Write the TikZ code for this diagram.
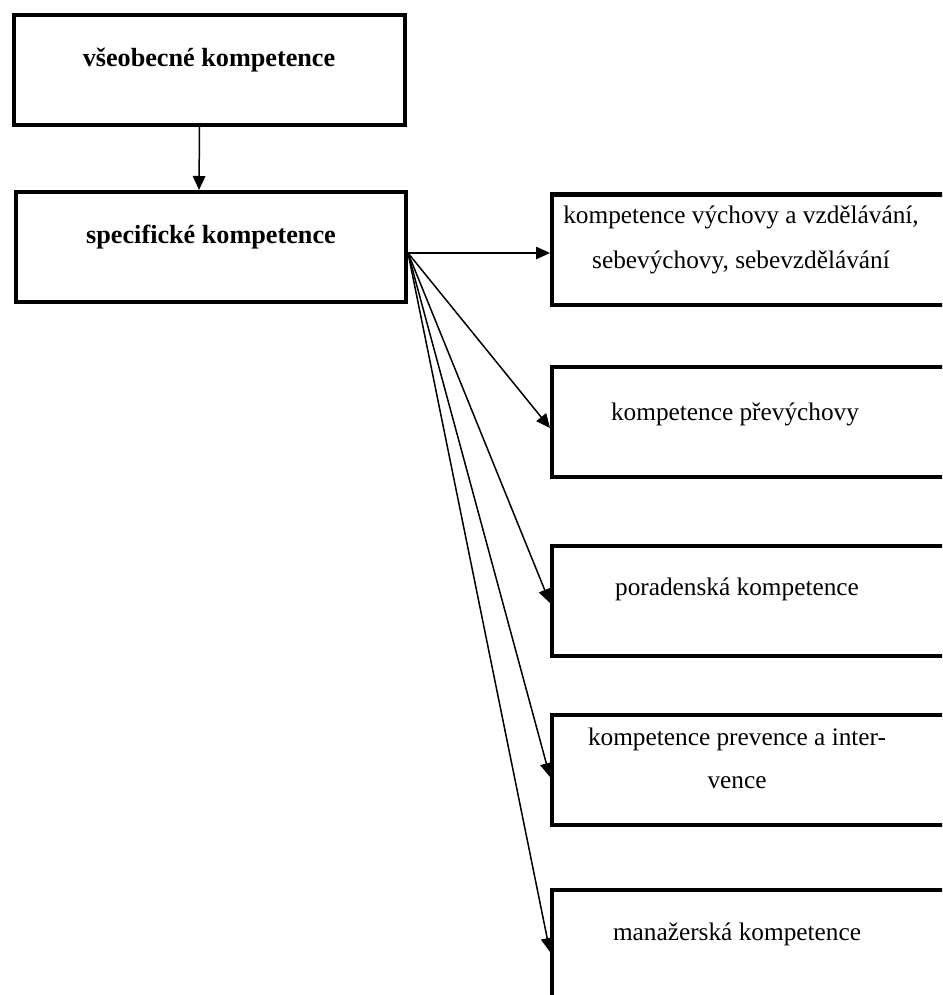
\documentclass[tikz,border=0pt]{standalone}
\usepackage{fontspec}
\setmainfont{Liberation Serif}
\usetikzlibrary{arrows.meta,calc}
\begin{document}
\begin{tikzpicture}[x=1pt,y=-1pt,
  box/.style={draw, line width=4pt, minimum height=110pt, inner sep=0pt},
  lbl/.style={anchor=base, inner sep=0pt, font=\fontsize{25.3}{30}\selectfont},
  blbl/.style={anchor=base, inner sep=0pt, font=\fontsize{26.2}{30}\selectfont\bfseries},
  arr/.style={line width=1.5pt, -{Triangle[length=14pt,width=12.5pt]}}]
\useasboundingbox (0,0) rectangle (942,995);
\clip (0,0) rectangle (942,995);
% left boxes
\node[box, minimum width=391pt] (v) at (209.5,70) {};
\node[box, minimum width=390pt] (s) at (211,247) {};
% right boxes
\node[box, minimum width=398pt] (a) at (751,249.5) {};
\node[box, minimum width=398pt] (b) at (751,422) {};
\node[box, minimum width=398pt] (c) at (751,600.5) {};
\node[box, minimum width=398pt] (d) at (751,770) {};
\node[box, minimum width=398pt] (e) at (751,945) {};
% texts
\node[blbl] (tv) at (209,67) {všeobecné kompetence};
\node[blbl] (ts) at (211,243) {specifické kompetence};
\node[lbl] (ta1) at (741,223) {kompetence výchovy a vzdělávání,};
\node[lbl] (ta2) at (741,268) {sebevýchovy, sebevzdělávání};
\node[lbl] (tb) at (735,420) {kompetence převýchovy};
\node[lbl] (tc) at (737,595) {poradenská kompetence};
\node[lbl] (td1) at (737,745) {kompetence prevence a inter-};
\node[lbl] (td2) at (737,788) {vence};
\node[lbl] (te) at (737,940) {manažerská kompetence};
% connectors
\coordinate (src) at ($(s.east)+(0,6)$);
\draw[arr] ($(v.south)+(-10,0)$) -- ($(s.north)+(-12,0)$);
\draw[arr] (src) -- ($(a.west)+(0,3.5)$);
\draw[arr] (src) -- ($(b.west)+(0,6)$);
\draw[arr] (src) -- ($(c.west)+(0,2.5)$);
\draw[arr] (src) -- ($(d.west)+(0,7)$);
\draw[arr] (src) -- ($(e.west)+(0,7)$);
\end{tikzpicture}
\end{document}
